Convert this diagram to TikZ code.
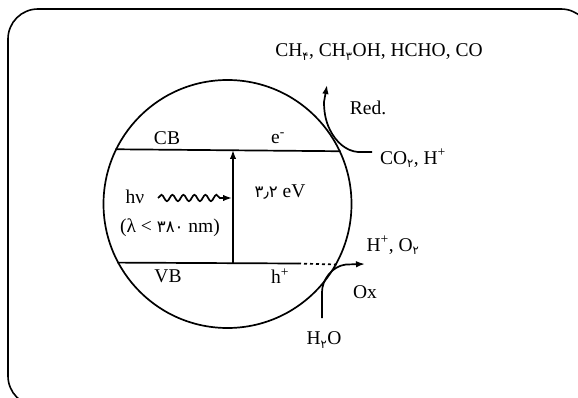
\documentclass[tikz,border=0pt]{standalone}
\usepackage{fontspec}
\setmainfont{Liberation Serif}
\newfontfamily\fadig{DejaVu Sans}[Scale=0.85]
\usetikzlibrary{arrows.meta,decorations.pathmorphing}
\newcommand\fsub[1]{\textsubscript{\fadig #1}}

\begin{document}
\begin{tikzpicture}[x=1pt,y=-1pt,
          every node/.style={font=\fontsize{19.5}{22}\selectfont,inner sep=1pt},
          band/.style={line width=1.7pt},
          flow/.style={line width=1.7pt,-{Latex[length=9pt,width=6.5pt]}}]
        \useasboundingbox (0,0) rectangle (578,398);
        \clip (0,0) rectangle (578,398);
        \draw[line width=1.6pt,rounded corners=30pt] (8,9) rectangle (591,406);
        \node[circle,draw,line width=1.7pt,minimum size=248pt,inner sep=0pt] (grain) at (227.5,204) {};
        \node (prod) at (379,52) {CH\fsub{۴}, CH\fsub{۳}OH, HCHO, CO};
        \node (red) at (368,108) {Red.};
        \node (co2) at (413,158) {CO\fsub{۲}, H\textsuperscript{+}};
        \node (cb) at (167,138) {CB};
        \node (el) at (278,138) {e\textsuperscript{-}};
        \node (hv) at (135,197) {hν};
        \node (gap) at (280,192) {{\fadig ۳٫۲} eV};
        \node (lam) at (170,228) {(λ < {\fadig ۳۸۰} nm)};
        \node (vb) at (168,276) {VB};
        \node (ho) at (280,276) {h\textsuperscript{+}};
        \node (o2) at (393,245) {H\textsuperscript{+}, O\fsub{۲}};
        \node (ox) at (365,292) {Ox};
        \node (h2o) at (324,340) {H\fsub{۲}O};
        \coordinate (gapbot) at (233,263.5);
        \coordinate (gaptop) at (233,150);
        \coordinate (wavefrom) at (158,198);
        \coordinate (waveto) at (232,198);
        \coordinate (redfrom) at (372,152);
        \coordinate (redto) at (327,85);
        \coordinate (oxfrom) at (322,318);
        \coordinate (oxto) at (365,264);
        \draw[band] (grain.154.2) -- (grain.25.8);
        \draw[band] (grain.208.7) -- (298,263.5);
        \draw[band,dashed] (298,263.5) -- (grain.331.3);
        \draw[flow] (gapbot) -- (gaptop);
        \draw[flow,decorate,decoration={snake,amplitude=3.2pt,segment length=11pt,post length=10pt}] (wavefrom) -- (waveto);
        \draw[flow] (redfrom) -- (358,152) .. controls (346,151) and (336,142) .. (330,130) .. controls (325,120) and (324,110) .. (324,102) -- (redto);
        \draw[flow] (oxfrom) -- (322,292) .. controls (322,280) and (332,266) .. (346,264.5) -- (oxto);
      \end{tikzpicture}
\end{document}
